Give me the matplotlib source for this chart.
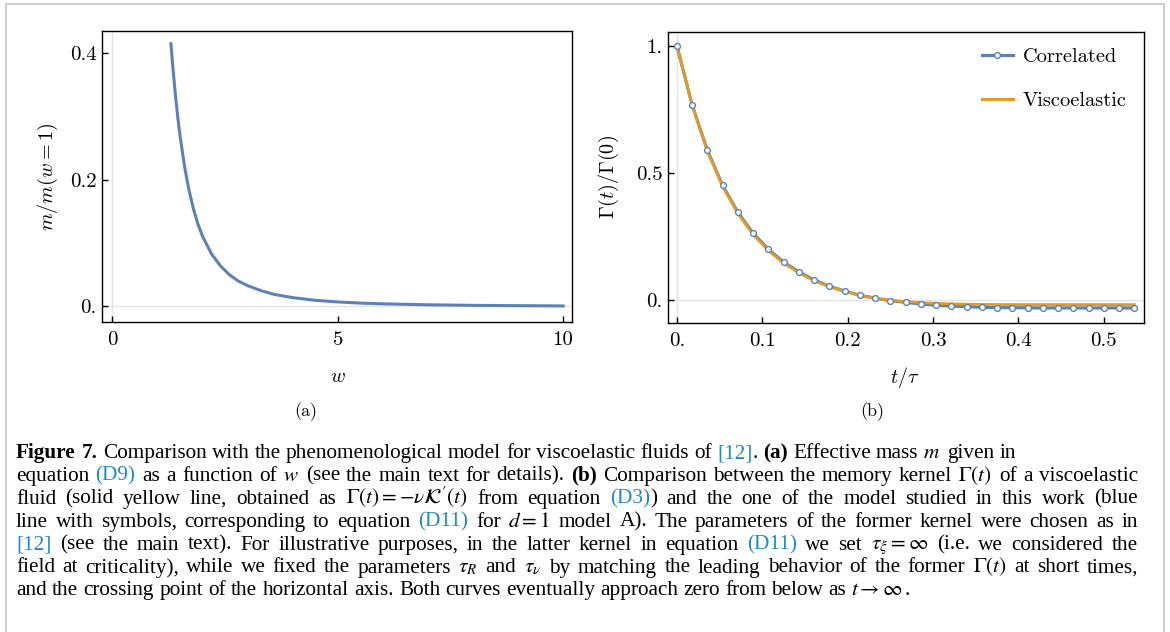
import numpy as np
import matplotlib
matplotlib.use('Agg')
import matplotlib.pyplot as plt
from matplotlib.lines import Line2D

# ---------------- data ----------------
# panel (a): effective mass ratio vs w
w_vals = [1.30, 1.35, 1.40, 1.45, 1.50, 1.60, 1.70, 1.80, 1.90, 2.00, 2.20, 2.40, 2.60,
          2.80, 3.00, 3.30, 3.60, 4.00, 4.50, 5.00, 5.50, 6.00, 7.00, 8.00, 9.00, 10.0]
m_ratio = [0.415, 0.372, 0.334, 0.300, 0.271, 0.222, 0.184, 0.154, 0.130, 0.111, 0.083,
           0.064, 0.050, 0.040, 0.033, 0.025, 0.019, 0.014, 0.0098, 0.0072, 0.0054,
           0.0042, 0.0027, 0.0018, 0.0013, 0.0009]

# panel (b): memory kernels vs t/tau
t_vals = [0.0, 0.0179, 0.0357, 0.0536, 0.0714, 0.0893, 0.1071, 0.1250, 0.1429, 0.1607,
          0.1786, 0.1964, 0.2143, 0.2321, 0.2500, 0.2679, 0.2857, 0.3036, 0.3214, 0.3393,
          0.3571, 0.3750, 0.3929, 0.4107, 0.4286, 0.4464, 0.4643, 0.4821, 0.5000, 0.5179,
          0.5357]
gamma_correlated = [1.000, 0.767, 0.589, 0.451, 0.3455, 0.263, 0.200, 0.150, 0.111, 0.080,
                    0.055, 0.0365, 0.0196, 0.0085, -0.0016, -0.008, -0.0145, -0.0196,
                    -0.0224, -0.025, -0.0275, -0.0288, -0.0290, -0.0295, -0.030, -0.030,
                    -0.030, -0.030, -0.030, -0.030, -0.030]
gamma_viscoelastic = [1.000, 0.765, 0.586, 0.447, 0.341, 0.258, 0.195, 0.146, 0.107, 0.077,
                      0.053, 0.035, 0.019, 0.008, 0.000, -0.005, -0.009, -0.012, -0.014,
                      -0.015, -0.016, -0.0165, -0.017, -0.017, -0.017, -0.017, -0.017,
                      -0.017, -0.017, -0.017, -0.017]

a_xticks = [0, 5, 10]
a_xticklabels = ['0', '5', '10']
a_yticks = [0.0, 0.2, 0.4]
a_yticklabels = ['0.', '0.2', '0.4']
b_xticks = [0.0, 0.1, 0.2, 0.3, 0.4, 0.5]
b_xticklabels = ['0.', '0.1', '0.2', '0.3', '0.4', '0.5']
b_yticks = [0.0, 0.5, 1.0]
b_yticklabels = ['0.', '0.5', '1.']
legend_labels = ['Correlated', 'Viscoelastic']

# ---------------- style ----------------
plt.rcParams['mathtext.fontset'] = 'cm'
BLUE = '#5E81B5'
ORANGE = '#E19C24'
GRID = '#e4e4e4'
LINK = '#1f8ac0'
W, H = 1170, 632

fig = plt.figure(figsize=(W / 100, H / 100), dpi=100)
fig.patch.set_facecolor('white')


def fx(x):
    return x / W


def fy(y):
    return 1 - y / H


def axes_px(l, t, r, b):
    return fig.add_axes([fx(l), fy(b), (r - l) / W, (b - t) / H])


def style_axes(ax):
    for s in ax.spines.values():
        s.set_linewidth(1.0)
    ax.tick_params(direction='in', length=4.3, width=1.0, top=False, right=False,
                   labelsize=15)
    ax.tick_params(axis='x', pad=7)
    ax.tick_params(axis='y', pad=4)


TICKFONT = dict(fontfamily='cmr10', fontsize=15)

# ---------------- panel (a) ----------------
axa = axes_px(102.3, 31, 571.7, 321.7)
axa.axhline(0, color=GRID, lw=1.0, zorder=0)
axa.axvline(0, color=GRID, lw=1.0, zorder=0)
axa.plot(w_vals, m_ratio, color=BLUE, lw=2.2, zorder=2)
axa.set_xlim(-0.222, 10.19)
axa.set_ylim(-0.024, 0.435)
axa.set_xticks(a_xticks, labels=a_xticklabels, **TICKFONT)
axa.set_yticks(a_yticks, labels=a_yticklabels, **TICKFONT)
style_axes(axa)

# ---------------- panel (b) ----------------
axb = axes_px(668, 31.7, 1144, 322.7)
axb.axhline(0, color=GRID, lw=1.0, zorder=0)
axb.axvline(0, color=GRID, lw=1.0, zorder=0)
axb.plot(t_vals, gamma_correlated, color=BLUE, lw=2.3, zorder=2)
axb.plot(t_vals, gamma_viscoelastic, color=ORANGE, lw=2.0, zorder=3)
axb.plot(t_vals, gamma_correlated, ls='none', marker='o', ms=4.2, mfc='white',
         mec=BLUE, mew=1.0, zorder=4)
axb.set_xlim(-0.0104, 0.547)
axb.set_ylim(-0.088, 1.055)
axb.set_xticks(b_xticks, labels=b_xticklabels, **TICKFONT)
axb.set_yticks(b_yticks, labels=b_yticklabels, **TICKFONT)
style_axes(axb)

h1 = Line2D([], [], color=BLUE, lw=2.3, marker='o', ms=4.2, mfc='white', mec=BLUE, mew=1.0)
h2 = Line2D([], [], color=ORANGE, lw=2.3)
axb.legend([h1, h2], legend_labels, loc='center left',
           bbox_to_anchor=(fx(981.8), fy(78.8)), bbox_transform=fig.transFigure,
           frameon=False, borderpad=0, borderaxespad=0, handlelength=1.52,
           handletextpad=0.5, labelspacing=1.25,
           prop={'family': 'cmr10', 'size': 14.7})

# axis labels and panel tags
fig.text(fx(48), fy(177), r'$m/m(w=1)$', rotation=90, ha='center', va='center', fontsize=14.5)
fig.text(fx(338), fy(377), r'$w$', ha='center', va='center', fontsize=14.5)
fig.text(fx(609), fy(177), r'$\Gamma(t)/\Gamma(0)$', rotation=90, ha='center', va='center',
         fontsize=14.5)
fig.text(fx(905), fy(377), r'$t/\tau$', ha='center', va='center', fontsize=14.5)
fig.text(fx(306), fy(412), '(a)', ha='center', va='center', fontfamily='cmr10', fontsize=13)
fig.text(fx(872), fy(412), '(b)', ha='center', va='center', fontfamily='cmr10', fontsize=13)

# outer light-gray frame
for (x0, y0, x1, y1) in [(6, 4, 1164, 4), (6, 4, 6, 632), (1164, 4, 1164, 632)]:
    fig.add_artist(Line2D([fx(x0), fx(x1)], [fy(y0), fy(y1)], transform=fig.transFigure,
                          color='#cfcfcf', lw=1.5))

# ---------------- caption ----------------
N, B, L, M = 'n', 'b', 'l', 'm'
caption_lines = [
    [("Figure 7.", B), (" Comparison with the phenomenological model for viscoelastic fluids of ", N),
     ("[12]", L), (". ", N), ("(a)", B), (" Effective mass ", N), (r"$m$", M), (" given in", N)],
    [("equation ", N), ("(D9)", L), (" as a function of ", N), (r"$w$", M),
     (" (see the main text for details). ", N), ("(b)", B),
     (" Comparison between the memory kernel ", N), (r"$\Gamma(t)$", M), (" of a viscoelastic", N)],
    [("fluid (solid yellow line, obtained as ", N), (r"$\Gamma(t)=-\nu\mathcal{K}'(t)$", M),
     (" from equation ", N), ("(D3)", L), (") and the one of the model studied in this work (blue", N)],
    [("line with symbols, corresponding to equation ", N), ("(D11)", L), (" for ", N),
     (r"$d=1$", M), (" model A). The parameters of the former kernel were chosen as in", N)],
    [("[12]", L), (" (see the main text). For illustrative purposes, in the latter kernel in equation ", N),
     ("(D11)", L), (" we set ", N), (r"$\tau_\xi=\infty$", M), (" (i.e. we considered the", N)],
    [("field at criticality), while we fixed the parameters ", N), (r"$\tau_R$", M), (" and ", N),
     (r"$\tau_\nu$", M), (" by matching the leading behavior of the former ", N), (r"$\Gamma(t)$", M),
     (" at short times,", N)],
    [("and the crossing point of the horizontal axis. Both curves eventually approach zero from below as ", N),
     (r"$t\rightarrow\infty$", M), (".", N)],
]
justify = [False, True, True, True, True, True, False]
cap_left, cap_right = 16, 1138
base0, line_step = 458, 22.9
fit_width = 1100

renderer = fig.canvas.get_renderer()


def text_kw(style):
    kw = dict(fontfamily='Liberation Serif', color='black', math_fontfamily='stix')
    if style == B:
        kw['fontweight'] = 'bold'
    if style == L:
        kw['color'] = LINK
    return kw


def split_words(segs):
    words = [[]]
    for txt, st in segs:
        parts = txt.split(' ')
        for i, p in enumerate(parts):
            if i > 0:
                words.append([])
            if p:
                words[-1].append((p, st))
    return [wd for wd in words if wd]


def measure(txt, st, size):
    t = fig.text(0, 0, txt, fontsize=size, **text_kw(st))
    wdt = t.get_window_extent(renderer).width
    t.remove()
    return wdt


REF = 10.0
line_words = [split_words(s) for s in caption_lines]
piece_w = [[[measure(p, st, REF) for p, st in wd] for wd in lw] for lw in line_words]
space_ref = 0.25 * REF * 100 / 72
nat = [sum(sum(pw) for pw in lw) + space_ref * (len(lw) - 1) for lw in piece_w]
max_just = max(n for n, j in zip(nat, justify) if j)
cap_size = REF * fit_width / max_just
scale = cap_size / REF
space_px = space_ref * scale

for i, (lw, pw) in enumerate(zip(line_words, piece_w)):
    widths = [[v * scale for v in wd] for wd in pw]
    total = sum(sum(wd) for wd in widths)
    if justify[i] and len(lw) > 1:
        gap = (cap_right - cap_left - total) / (len(lw) - 1)
    else:
        gap = space_px
    x = cap_left
    yb = base0 + i * line_step
    for wd, wds in zip(lw, widths):
        for (p, st), pwid in zip(wd, wds):
            fig.text(fx(x), fy(yb), p, fontsize=cap_size, va='baseline', ha='left', **text_kw(st))
            x += pwid
        x += gap

fig.savefig('out.png', dpi=100)
